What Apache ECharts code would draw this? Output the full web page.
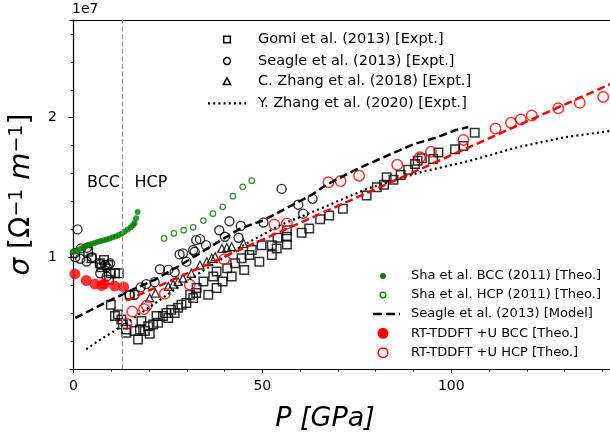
<!DOCTYPE html>
<html>
<head>
<meta charset="utf-8">
<script src="https://cdn.jsdelivr.net/npm/echarts@6/dist/echarts.min.js"></script>
<style>
  html, body { margin: 0; padding: 0; background: #fff; }
  #chart { width: 610px; height: 437px; }
</style>
</head>
<body>
<div id="chart"></div>
<script>
// pressure P [GPa], conductivity sigma [1e7 S/m]
const gomi = [
  [3.9, 1.04], [4.8, 0.993], [7.0, 0.957], [7.4, 0.929], [8.1, 0.981], [9.2, 0.945],
  [9.4, 0.839], [9.9, 0.886], [11.0, 0.886], [12.0, 0.886],
  [9.9, 0.661], [11.0, 0.579], [11.8, 0.59], [12.7, 0.554], [13.1, 0.519], [14.0, 0.483],
  [14.0, 0.46], [14.9, 0.732], [16.2, 0.472], [17.1, 0.412], [17.6, 0.483], [18.0, 0.543],
  [18.9, 0.472], [19.8, 0.507], [20.2, 0.453], [21.1, 0.519], [22.0, 0.579], [22.4, 0.531],
  [23.7, 0.579], [24.6, 0.602], [25.1, 0.566], [25.9, 0.625], [26.8, 0.602], [27.7, 0.638],
  [28.6, 0.661], [29.9, 0.673], [31.7, 0.709], [32.5, 0.744], [30.9, 0.732], [32.6, 0.78],
  [34.4, 0.827], [35.7, 0.732], [37.0, 0.863], [37.9, 0.898], [37.9, 0.78], [39.5, 0.827],
  [40.7, 0.922], [41.9, 0.863], [42.8, 0.957], [44.5, 0.993], [45.2, 0.91], [46.6, 1.016],
  [47.2, 1.052], [49.2, 0.969], [49.8, 1.087], [52.5, 1.016], [52.5, 1.087], [53.8, 1.064],
  [54.0, 1.14], [56.5, 1.147], [56.5, 1.092], [56.5, 1.194], [60.4, 1.176], [62.4, 1.206],
  [65.3, 1.272], [67.7, 1.30], [71.3, 1.348], [77.6, 1.443], [80.3, 1.502], [82.2, 1.519],
  [82.9, 1.573], [84.7, 1.556], [86.6, 1.59], [88.6, 1.628], [90.4, 1.668], [91.1, 1.692],
  [92.2, 1.709], [95.2, 1.704], [96.6, 1.751], [101.0, 1.775], [103.2, 1.798], [106.2, 1.893]
];
const seagleExp = [
  [1.1, 1.20], [0.4, 1.03], [0.5, 1.00], [2.0, 1.064], [3.6, 1.069], [1.8, 0.99],
  [3.5, 0.97], [4.9, 1.0], [7.1, 0.95], [8.4, 0.945], [9.7, 0.957], [8.8, 0.93],
  [7.1, 0.886], [8.8, 0.863],
  [14.9, 0.728], [16.2, 0.732], [17.8, 0.785], [19.3, 0.808], [21.5, 0.822], [22.9, 0.915],
  [25.1, 0.91], [26.8, 0.893], [28.1, 1.021], [29.0, 1.028], [29.9, 0.969], [32.5, 1.123],
  [32.1, 1.04], [31.7, 1.052], [33.5, 1.13], [35.1, 1.087], [38.6, 1.194], [40.1, 1.147],
  [41.3, 1.258], [43.7, 1.14], [44.3, 1.225], [50.3, 1.249], [55.1, 1.49], [59.5, 1.377],
  [60.8, 1.313], [63.3, 1.419]
];
const cZhang = [
  [20.2, 0.709], [21.7, 0.744], [25.1, 0.792], [26.4, 0.808], [27.7, 0.827], [29.0, 0.851],
  [31.2, 0.886], [33.5, 0.945], [35.3, 0.969], [36.6, 0.993], [37.5, 1.005], [39.3, 1.064],
  [40.6, 1.069], [41.9, 1.076], [45.0, 1.10]
];
const yZhang = [
  [3.4, 0.341], [6.5, 0.40], [10.1, 0.46], [20, 0.64], [30, 0.83], [45, 1.087], [54.7, 1.23],
  [65.3, 1.348], [77.6, 1.49], [91.7, 1.609], [105, 1.692], [117.3, 1.787], [129.6, 1.858],
  [142, 1.905]
];
const shaBcc = [
  [0, 1.040], [0.8, 1.048], [1.6, 1.058], [2.4, 1.066], [3.2, 1.077], [4.0, 1.088],
  [4.8, 1.096], [5.6, 1.103], [6.4, 1.110], [7.2, 1.117], [8.0, 1.122], [8.8, 1.128],
  [9.6, 1.135], [10.4, 1.143], [11.2, 1.150], [12.0, 1.160], [12.8, 1.170], [13.6, 1.185],
  [14.4, 1.200], [15.2, 1.216], [15.8, 1.232], [16.2, 1.245], [16.6, 1.28], [17.0, 1.325]
];
const shaHcp = [
  [24.0, 1.135], [26.6, 1.171], [29.2, 1.194], [31.7, 1.215], [34.4, 1.263], [36.9, 1.313],
  [39.5, 1.362], [42.2, 1.438], [44.8, 1.505], [47.2, 1.549]
];
const seagleModel = [
  [0.5, 0.566], [9.2, 0.685], [16.2, 0.775], [21.5, 0.839], [27.7, 0.934], [44.1, 1.206],
  [50.3, 1.265], [59.1, 1.391], [63.1, 1.448], [67.0, 1.52], [74.1, 1.62], [82.9, 1.727],
  [90.0, 1.81], [96.1, 1.858], [101.0, 1.91], [104.5, 1.933]
];
const rtBcc = [
  [0.4, 0.881], [3.4, 0.834], [5.7, 0.808], [7.5, 0.799], [8.2, 0.81], [10.9, 0.795], [13.3, 0.788]
];
const rtHcp = [
  [14.0, 0.524], [15.6, 0.611], [18.7, 0.630], [19.4, 0.654], [24.2, 0.739], [30.8, 0.803],
  [39.9, 0.986], [53.2, 1.235], [56.5, 1.242], [67.5, 1.538], [70.7, 1.547], [75.6, 1.585],
  [85.7, 1.663], [91.7, 1.716], [94.6, 1.756], [103.2, 1.841], [111.7, 1.922], [115.8, 1.964],
  [118.4, 1.988], [121.3, 2.016], [128.3, 2.068], [134.0, 2.107], [140.2, 2.149]
];
const rtFit = [[14, 0.69], [142, 2.24]];

const xMajor = [0, 50, 100];
const xMinor = [10, 20, 30, 40, 60, 70, 80, 90, 110, 120, 130, 140];
const yMajor = [1, 2];
const yMinor = [0.4, 0.6, 0.8, 1.2, 1.4, 1.6, 1.8, 2.2, 2.4, 2.6];
const phaseBoundary = 13;

const legendExpt = ["Gomi et al. (2013) [Expt.]", "Seagle et al. (2013) [Expt.]",
                    "C. Zhang et al. (2018) [Expt.]", "Y. Zhang et al. (2020) [Expt.]"];
const legendTheo = ["Sha et al. BCC (2011) [Theo.]", "Sha et al. HCP (2011) [Theo.]",
                    "Seagle et al. (2013) [Model]", "RT-TDDFT +U BCC [Theo.]", "RT-TDDFT +U HCP [Theo.]"];

const FONT = "DejaVu Sans";
const GREEN = "#008000";
const RED = "#ff0000";
const chart = echarts.init(document.getElementById("chart"));

const hollow = (c, w) => ({ color: "rgba(0,0,0,0)", borderColor: c, borderWidth: w });

// legend keys, drawn by hand so that marker sizes match the plot
const lx1 = 227, rows1 = [39.5, 61, 81.7, 103.3];
const lx2 = 383, rows2 = [276, 295, 314, 333.3, 352.7];
const legendText = (x, y, t, size) => ({
  type: "text", x: x, y: y,
  style: { text: t, fontSize: size, fontFamily: FONT, fill: "#000", verticalAlign: "middle" }
});
const legendGraphics = [
  { type: "rect", shape: { x: lx1 - 3.3, y: rows1[0] - 3.3, width: 6.6, height: 6.6 },
    style: { fill: "none", stroke: "#000", lineWidth: 1.5 } },
  { type: "circle", shape: { cx: lx1, cy: rows1[1], r: 3.4 },
    style: { fill: "none", stroke: "#000", lineWidth: 1.5 } },
  { type: "polygon", shape: { points: [[lx1, rows1[2] - 3.8], [lx1 + 3.6, rows1[2] + 2.8], [lx1 - 3.6, rows1[2] + 2.8]] },
    style: { fill: "none", stroke: "#000", lineWidth: 1.5 } },
  { type: "line", shape: { x1: 208, y1: rows1[3], x2: 246, y2: rows1[3] },
    style: { stroke: "#000", lineWidth: 2.2, lineDash: [2, 3.2] } },
  { type: "circle", shape: { cx: lx2, cy: rows2[0], r: 3 }, style: { fill: GREEN } },
  { type: "circle", shape: { cx: lx2, cy: rows2[1], r: 2.8 },
    style: { fill: "none", stroke: GREEN, lineWidth: 1.3 } },
  { type: "line", shape: { x1: 373, y1: rows2[2], x2: 400, y2: rows2[2] },
    style: { stroke: "#000", lineWidth: 2.5, lineDash: [9, 4] } },
  { type: "circle", shape: { cx: lx2, cy: rows2[3], r: 5.5 }, style: { fill: RED } },
  { type: "circle", shape: { cx: lx2, cy: rows2[4], r: 4.8 },
    style: { fill: "none", stroke: RED, lineWidth: 1.5 } }
]
  .concat(legendExpt.map((t, i) => legendText(258, rows1[i], t, 14.5)))
  .concat(legendTheo.map((t, i) => legendText(411, rows2[i], t, 13)));

const option = {
  animation: false,
  backgroundColor: "#fff",
  textStyle: { fontFamily: FONT },
  grid: { left: 70, right: 0, top: 20, bottom: 66 },
  xAxis: [
    {
      type: "value", min: -0.9, max: 142, position: "bottom",
      axisLine: { lineStyle: { color: "#000", width: 1.2 } },
      axisTick: { customValues: xMajor, length: 4, lineStyle: { color: "#000", width: 1 } },
      axisLabel: { customValues: xMajor, fontSize: 14, color: "#000", margin: 10, fontFamily: FONT },
      splitLine: { show: false },
      name: "P [GPa]", nameLocation: "middle", nameGap: 36,
      nameTextStyle: { fontSize: 27, fontStyle: "italic", color: "#000", fontFamily: FONT, padding: [0, 30, 0, 0] }
    },
    {
      type: "value", min: -0.9, max: 142, position: "bottom",
      axisLine: { show: false },
      axisTick: { customValues: xMinor, length: 2.5, lineStyle: { color: "#000", width: 0.8 } },
      axisLabel: { show: false }, splitLine: { show: false }
    },
    {
      type: "value", min: -0.9, max: 142, position: "top",
      axisLine: { lineStyle: { color: "#000", width: 1.2 } },
      axisTick: { show: false }, axisLabel: { show: false }, splitLine: { show: false }
    }
  ],
  yAxis: [
    {
      type: "value", min: 0.2, max: 2.7, position: "left",
      axisLine: { show: true, lineStyle: { color: "#000", width: 1.2 } },
      axisTick: { show: true, customValues: yMajor, length: 5, lineStyle: { color: "#000", width: 1 } },
      axisLabel: { customValues: yMajor, fontSize: 14, color: "#000", margin: 13, fontFamily: FONT },
      splitLine: { show: false },
      name: "{i|σ} [Ω{s|−1} {i|m}{s|−1}]", nameLocation: "middle", nameGap: 34, nameRotate: 90,
      nameTextStyle: {
        fontSize: 28, color: "#000", fontFamily: FONT,
        rich: {
          i: { fontSize: 28, fontStyle: "italic", fontFamily: FONT, color: "#000" },
          s: { fontSize: 19, verticalAlign: "top", fontFamily: FONT, color: "#000" }
        }
      }
    },
    {
      type: "value", min: 0.2, max: 2.7, position: "left",
      axisLine: { show: false },
      axisTick: { show: true, customValues: yMinor, length: 2.5, lineStyle: { color: "#000", width: 0.8 } },
      axisLabel: { show: false }, splitLine: { show: false }
    }
  ],
  graphic: [
    { type: "text", left: 72, top: 2, style: { text: "1e7", fontSize: 14, fontFamily: FONT, fill: "#000" } },
    { type: "text", x: 103.5, y: 183, style: { text: "BCC", fontSize: 16, fontFamily: FONT, fill: "#000", align: "center", verticalAlign: "middle" } },
    { type: "text", x: 151, y: 183, style: { text: "HCP", fontSize: 16, fontFamily: FONT, fill: "#000", align: "center", verticalAlign: "middle" } }
  ].concat(legendGraphics),
  series: [
    {
      name: legendExpt[0], type: "scatter", data: gomi,
      symbol: "rect", symbolSize: 8.5, itemStyle: hollow("#000", 1.5),
      markLine: {
        silent: true, symbol: "none", label: { show: false },
        lineStyle: { color: "#999", width: 1.2, type: [5, 2.5] },
        data: [{ xAxis: phaseBoundary }]
      }
    },
    {
      name: legendExpt[1], type: "scatter", data: seagleExp,
      symbol: "circle", symbolSize: 9, itemStyle: hollow("#000", 1.4)
    },
    {
      name: legendExpt[2], type: "scatter", data: cZhang,
      symbol: "triangle", symbolSize: 8, itemStyle: hollow("#000", 1.3)
    },
    {
      name: legendExpt[3], type: "line", data: yZhang, showSymbol: false, symbol: "none",
      lineStyle: { color: "#000", width: 2.2, type: [2, 3.2] }, itemStyle: { color: "#000" }
    },
    {
      name: legendTheo[0], type: "scatter", data: shaBcc,
      symbol: "circle", symbolSize: 6, itemStyle: { color: GREEN }
    },
    {
      name: legendTheo[1], type: "scatter", data: shaHcp,
      symbol: "circle", symbolSize: 5.5, itemStyle: hollow(GREEN, 1.3)
    },
    {
      name: legendTheo[2], type: "line", data: seagleModel, showSymbol: false, symbol: "none",
      lineStyle: { color: "#000", width: 2.5, type: [8, 4] }, itemStyle: { color: "#000" }
    },
    {
      name: legendTheo[3], type: "scatter", data: rtBcc,
      symbol: "circle", symbolSize: 11, itemStyle: { color: RED }
    },
    {
      name: legendTheo[4], type: "scatter", data: rtHcp,
      symbol: "circle", symbolSize: 10.5, itemStyle: hollow(RED, 1.5)
    },
    {
      name: "RT-TDDFT +U fit", type: "line", data: rtFit, showSymbol: false, symbol: "none",
      lineStyle: { color: RED, width: 2.5, type: [8, 4] }
    }
  ]
};

chart.setOption(option);
</script>
</body>
</html>
